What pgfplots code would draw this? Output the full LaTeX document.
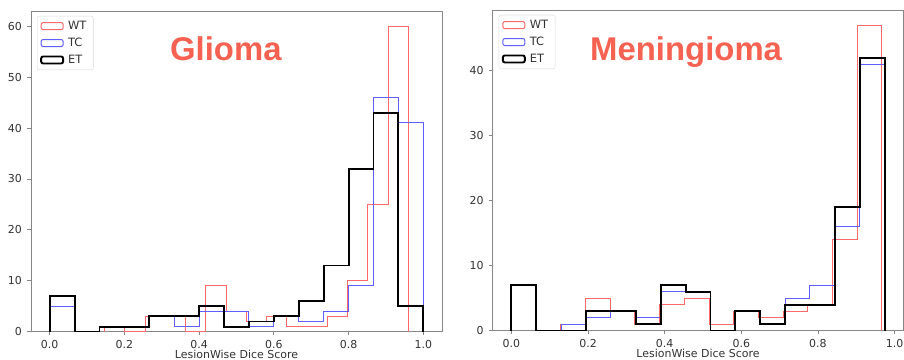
\documentclass[border=0pt]{standalone}
\usepackage{fontspec}
\setmainfont{DejaVu Sans}
\newfontfamily\titlefont{Liberation Sans}
\usepackage{pgfplots}
\pgfplotsset{compat=1.18}
\definecolor{wtc}{RGB}{255,105,105}
\definecolor{tcc}{RGB}{95,95,255}
\definecolor{titc}{RGB}{246,98,82}
\definecolor{framec}{RGB}{135,135,135}
\definecolor{labc}{RGB}{50,50,50}
\pgfplotsset{
  histax/.style={
    scale only axis,
    anchor=south west,
    axis line style={framec, line width=0.9bp},
    tick style={framec, line width=0.8bp},
    tick align=outside,
    major tick length=3.5bp,
    xtick pos=bottom, ytick pos=left,
    ymin=0,
    xtick={0,0.2,0.4,0.6,0.8,1.0},
    xticklabels={0.0,0.2,0.4,0.6,0.8,1.0},
    tick label style={font=\fontsize{11}{12}\selectfont, text=labc},
    /pgf/number format/assume math mode=true,
    xticklabel style={inner sep=0pt, anchor=base, yshift=-13.6bp},
    yticklabel style={inner sep=0pt, anchor=east, xshift=-5.5bp},
    xlabel={LesionWise Dice Score},
    xlabel style={font=\fontsize{11}{12}\selectfont, text=labc, at={(axis description cs:0.5,0)}, anchor=base, yshift=-27.2bp, inner sep=0pt},
    legend cell align=left,
    legend style={at={(axis description cs:0,1)}, anchor=north west, xshift=6bp, yshift=-5bp,
      font=\fontsize{11.5}{12}\selectfont, text=labc, draw=black!15, rounded corners=2bp,
      inner xsep=3bp, inner ysep=4bp, row sep=5bp,
      nodes={inner xsep=4bp, inner ysep=1bp}},
    legend image code/.code={\draw[#1] (0bp,-3.5bp) rectangle (22bp,3.5bp);},
    every axis plot/.append style={const plot mark left},
  },
  wt/.style={wtc, line width=1bp},
  tc/.style={tcc, line width=1bp},
  et/.style={black, line width=1.9bp},
}
\begin{document}
\begin{tikzpicture}
\path[use as bounding box] (0,0) rectangle (904bp,360bp);
% ---------------- Glioma ----------------
\begin{axis}[histax, at={(31bp,28.3bp)}, width=411bp, height=320.7bp,
  xmin=-0.05, xmax=1.05, ymax=63, ytick={0,10,20,30,40,50,60}]
\addplot[wt] coordinates {(0.147,0) (0.147,1) (0.2012,0) (0.2554,3) (0.3096,3) (0.3638,0) (0.418,9) (0.4722,4) (0.5264,2) (0.5806,3) (0.6348,1) (0.689,1) (0.7432,3) (0.7974,10) (0.8516,25) (0.9058,60) (0.96,60) (0.96,0)};
\addlegendentry{WT}
\addplot[tc] coordinates {(0,0) (0,5) (0.0667,0) (0.1333,1) (0.2,1) (0.2667,3) (0.3333,1) (0.4,4) (0.4667,4) (0.5333,1) (0.6,3) (0.6667,2) (0.7333,4) (0.8,9) (0.8667,46) (0.9333,41) (1.0,41) (1.0,0)};
\addlegendentry{TC}
\addplot[et] coordinates {(0,0) (0,7) (0.0667,0) (0.1333,1) (0.2,1) (0.2667,3) (0.3333,3) (0.4,5) (0.4667,1) (0.5333,2) (0.6,3) (0.6667,6) (0.7333,13) (0.8,32) (0.8667,43) (0.9333,5) (1.0,5) (1.0,0)};
\addlegendentry{ET}
\node[anchor=base west, inner sep=0pt, text=titc, font=\titlefont\bfseries\fontsize{33}{36}\selectfont] at (rel axis cs:0.338,0.847) {Glioma};
\end{axis}
% ---------------- Meningioma ----------------
\begin{axis}[histax, at={(492.7bp,29.3bp)}, width=410.6bp, height=320.7bp,
  xmin=-0.0487, xmax=1.0227, ymax=49.35, ytick={0,10,20,30,40}]
\addplot[wt] coordinates {(0,0) (0,7) (0.0645,0) (0.1289,1) (0.1934,5) (0.2579,3) (0.3223,1) (0.3868,4) (0.4513,5) (0.5157,1) (0.5802,3) (0.6447,2) (0.7091,3) (0.7736,4) (0.8381,14) (0.9025,47) (0.967,47) (0.967,0)};
\addlegendentry{WT}
\addplot[tc] coordinates {(0,0) (0,7) (0.0649,0) (0.1299,1) (0.1948,2) (0.2597,3) (0.3247,2) (0.3896,6) (0.4545,6) (0.5195,0) (0.5844,3) (0.6493,1) (0.7143,5) (0.7792,7) (0.8441,16) (0.9091,41) (0.974,41) (0.974,0)};
\addlegendentry{TC}
\addplot[et] coordinates {(0,0) (0,7) (0.0649,0) (0.1299,0) (0.1948,3) (0.2597,3) (0.3247,1) (0.3896,7) (0.4545,6) (0.5195,0) (0.5844,3) (0.6493,1) (0.7143,4) (0.7792,4) (0.8441,19) (0.9091,42) (0.974,42) (0.974,0)};
\addlegendentry{ET}
\node[anchor=base west, inner sep=0pt, text=titc, font=\titlefont\bfseries\fontsize{33}{36}\selectfont] at (rel axis cs:0.237,0.844) {Meningioma};
\end{axis}
\end{tikzpicture}
\end{document}
